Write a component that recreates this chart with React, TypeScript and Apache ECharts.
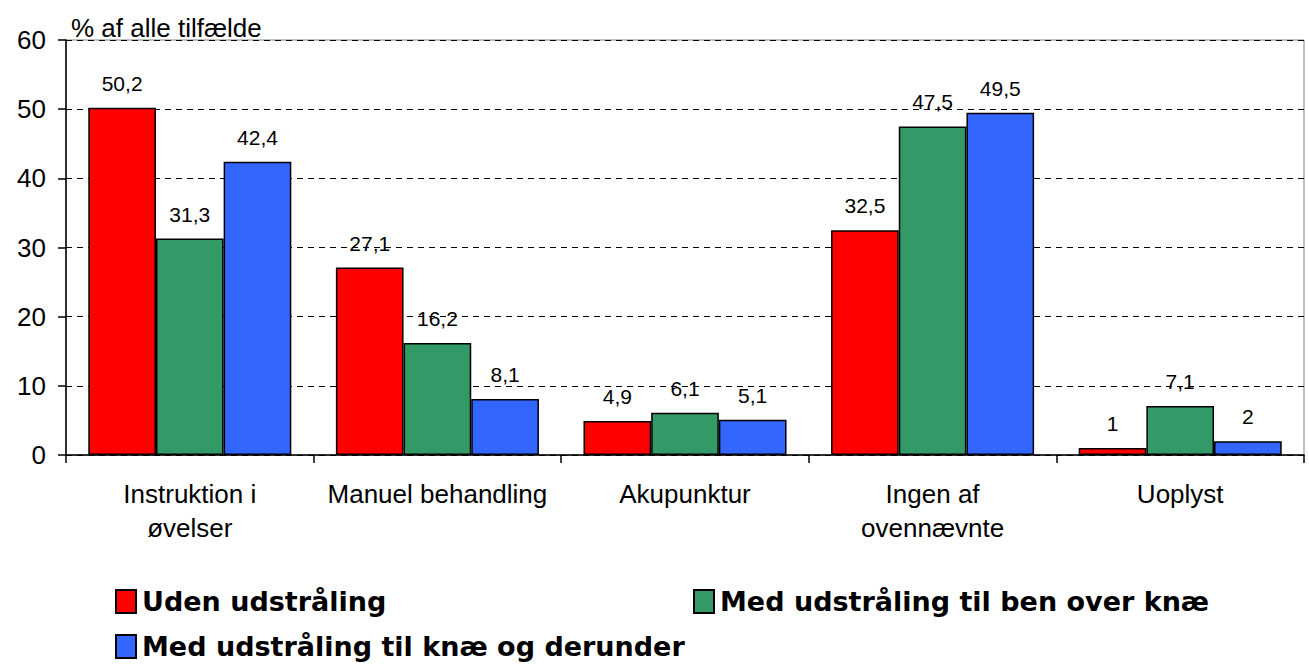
import React, { useEffect, useRef } from "react";
import * as echarts from "echarts";

const categories = ["Instruktion i\nøvelser", "Manuel behandling", "Akupunktur", "Ingen af\novennævnte", "Uoplyst"];
const seriesNames = ["Uden udstråling", "Med udstråling til ben over knæ", "Med udstråling til knæ og derunder"];
const udenValues = [50.2, 27.1, 4.9, 32.5, 1];
const overKnaeValues = [31.3, 16.2, 6.1, 47.5, 7.1];
const underKnaeValues = [42.4, 8.1, 5.1, 49.5, 2];
const colors = ["#FF0000", "#339966", "#3366FF"];
const yTitle = "% af alle tilfælde";

export default function App() {
  const ref = useRef<HTMLDivElement>(null);
  useEffect(() => {
    const chart = echarts.init(ref.current!, null, { renderer: "svg" });
    const font = "Liberation Sans, Arial, sans-serif";
    const values = [udenValues, overKnaeValues, underKnaeValues];
    const legendText = { fontSize: 27, fontWeight: "bold" as const, color: "#000", fontFamily: "DejaVu Sans, sans-serif", padding: [0, 0, 0, 1] };
    const legendPos = [
      { left: 115, top: 588 },
      { left: 693, top: 588 },
      { left: 115, top: 633 },
    ];
    chart.setOption({
      animation: false,
      grid: { left: 66, right: 5, top: 40, bottom: 210, show: true, borderColor: "#808080", borderWidth: 1 },
      title: {
        text: yTitle, left: 66, top: 10,
        textStyle: { fontSize: 26, fontWeight: "normal", color: "#000", fontFamily: font },
      },
      legend: seriesNames.map((n, i) => ({
        data: [n], ...legendPos[i], padding: 0,
        itemWidth: 20, itemHeight: 23, icon: "rect",
        textStyle: legendText,
      })),
      xAxis: {
        type: "category", data: categories,
        axisLine: { lineStyle: { color: "#000", width: 1.5 } },
        axisTick: { show: true, length: 8, lineStyle: { color: "#000", width: 1.5 } },
        axisLabel: { interval: 0, fontSize: 26, color: "#000", fontFamily: font, margin: 22, lineHeight: 34 },
      },
      yAxis: {
        type: "value", min: 0, max: 60, interval: 10,
        axisLine: { show: true, lineStyle: { color: "#000", width: 1.5 } },
        axisTick: { show: true, length: 8, lineStyle: { color: "#000", width: 1.5 } },
        axisLabel: { fontSize: 26, color: "#000", fontFamily: font, margin: 20 },
        splitLine: { show: true, lineStyle: { color: "#000", type: [6, 5], width: 1 } },
      },
      series: seriesNames.map((name, i) => ({
        name, type: "bar", data: values[i],
        barGap: "0%", barCategoryGap: "18%",
        itemStyle: { color: colors[i], borderColor: "#000", borderWidth: 1.5 },
        label: {
          show: true, position: "top", distance: 14, fontSize: 21, color: "#000", fontFamily: font,
          formatter: (p: any) => String(p.value).replace(".", ","),
        },
      })),
    });
    return () => chart.dispose();
  }, []);
  return <div ref={ref} style={{ width: 1309, height: 665, position: "absolute", left: 0, top: 0, background: "#fff" }} />;
}
